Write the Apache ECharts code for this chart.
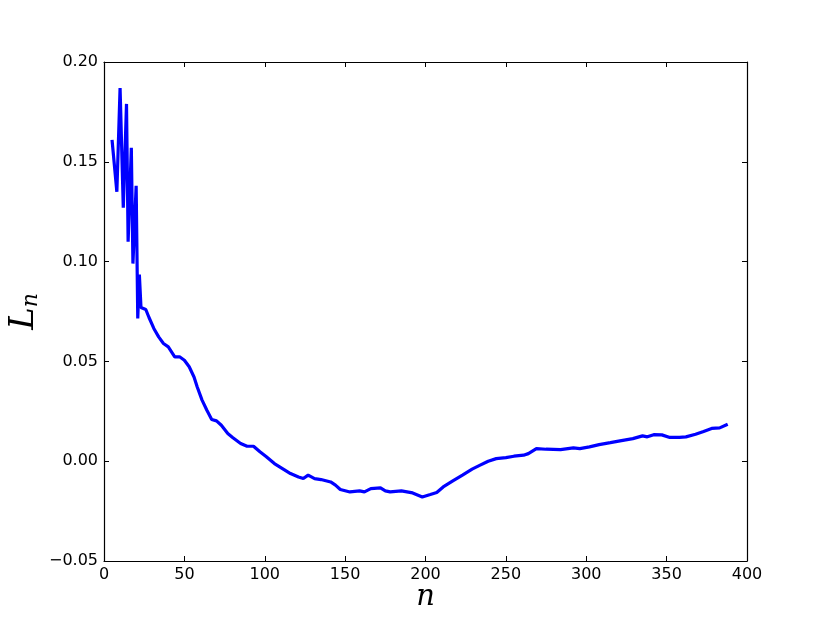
<!DOCTYPE html>
<html>
<head>
<meta charset="utf-8">
<script src="https://cdn.jsdelivr.net/npm/echarts@6/dist/echarts.min.js"></script>
<style>
  html, body { margin: 0; padding: 0; background: #fff; }
  #chart { width: 830px; height: 623px; }
</style>
</head>
<body>
<div id="chart"></div>
<script>
// n values (x) and L_n values (y)
var nValues = [5, 8, 10, 12, 14, 15, 17, 18, 20, 21, 22, 23, 26, 28, 31, 34, 37, 40, 44, 47,
  50, 53, 56, 58, 61, 64, 67, 70, 73, 77, 80, 85, 89, 93, 97, 101, 106, 112, 116, 121,
  124, 127, 131, 135, 141, 144, 147, 153, 159, 162, 166, 172, 175, 178, 185, 192, 198, 203, 207, 211,
  217, 223, 229, 234, 239, 244, 250, 255, 261, 264, 269, 275, 284, 292, 296, 302, 308, 315, 321, 329,
  335, 338, 342, 347, 352, 358, 362, 368, 373, 378, 383, 388];
var lnValues = [0.161, 0.135, 0.187, 0.127, 0.179, 0.110, 0.157, 0.099, 0.138, 0.0715, 0.0935, 0.077, 0.076, 0.072, 0.0665, 0.0623, 0.059, 0.0573, 0.0523, 0.0523,
  0.0506, 0.0473, 0.0422, 0.0372, 0.0306, 0.0255, 0.0209, 0.0202, 0.018, 0.0139, 0.0119, 0.0089, 0.0075, 0.0075, 0.0047, 0.0022, -0.0012, -0.0042, -0.0062, -0.0079,
  -0.0087, -0.0070, -0.0087, -0.0092, -0.0104, -0.0120, -0.0142, -0.0154, -0.0149, -0.0154, -0.0137, -0.0134, -0.0149, -0.0154, -0.0149, -0.0159, -0.0179, -0.0167, -0.0157, -0.0129,
  -0.0099, -0.0070, -0.0040, -0.0020, 0.0000, 0.0013, 0.0018, 0.0025, 0.0030, 0.0038, 0.0063, 0.0060, 0.0058, 0.0067, 0.0063, 0.0072, 0.0083, 0.0093, 0.0102, 0.0113,
  0.0127, 0.0122, 0.0133, 0.0132, 0.0119, 0.0119, 0.0122, 0.0135, 0.0149, 0.0164, 0.0167, 0.0185];

var xMin = 0, xMax = 400, xStep = 50;
var yMin = -0.05, yMax = 0.20, yStep = 0.05;

var chart = echarts.init(document.getElementById('chart'));

var points = nValues.map(function (n, i) { return [n, lnValues[i]]; });

var tickStyle = { show: true, inside: true, length: 5, lineStyle: { color: '#000', width: 1 } };
var lineStyle = { show: true, onZero: false, lineStyle: { color: '#000', width: 1.2 } };
var labelFont = { color: '#000', fontFamily: 'DejaVu Sans', fontSize: 16 };

chart.setOption({
  animation: false,
  backgroundColor: '#fff',
  grid: { left: 104, right: 83, top: 62, bottom: 62, show: false, containLabel: false, outerBoundsMode: 'none' },
  xAxis: [
    {
      type: 'value', min: xMin, max: xMax, interval: xStep,
      axisLine: lineStyle, axisTick: tickStyle, splitLine: { show: false },
      axisLabel: Object.assign({ margin: 6 }, labelFont),
      name: 'n', nameLocation: 'middle', nameGap: 22, nameMoveOverlap: false,
      nameTextStyle: { fontFamily: 'DejaVu Serif', fontStyle: 'italic', fontSize: 29, color: '#000' }
    },
    {
      type: 'value', position: 'top', min: xMin, max: xMax, interval: xStep,
      axisLine: lineStyle, axisTick: tickStyle, splitLine: { show: false }, axisLabel: { show: false }
    }
  ],
  yAxis: [
    {
      type: 'value', min: yMin, max: yMax, interval: yStep,
      axisLine: lineStyle, axisTick: tickStyle, splitLine: { show: false },
      axisLabel: Object.assign({ margin: 6, formatter: function (v) { return v.toFixed(2).replace('-', '\u2212'); } }, labelFont),
      name: '{L|L}{s|n}', nameLocation: 'middle', nameGap: 62, nameRotate: 90, nameMoveOverlap: false,
      nameTextStyle: {
        rich: {
          L: { fontFamily: 'DejaVu Serif', fontStyle: 'italic', fontSize: 34, color: '#000' },
          s: { fontFamily: 'DejaVu Serif', fontStyle: 'italic', fontSize: 22, color: '#000', padding: [14, 0, 0, 0] }
        }
      }
    },
    {
      type: 'value', position: 'right', min: yMin, max: yMax, interval: yStep,
      axisLine: lineStyle, axisTick: tickStyle, splitLine: { show: false }, axisLabel: { show: false }
    }
  ],
  series: [
    {
      type: 'line',
      data: points,
      showSymbol: false,
      symbol: 'none',
      lineStyle: { color: '#0000ff', width: 3.2 },
      itemStyle: { color: '#0000ff' }
    }
  ]
});
</script>
</body>
</html>
